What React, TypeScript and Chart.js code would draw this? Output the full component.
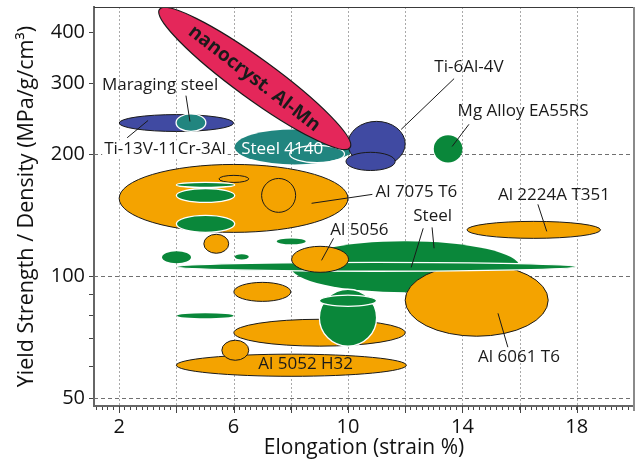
import React, { useEffect, useRef } from 'react';
import { Chart, registerables } from 'chart.js';
Chart.register(...registerables);

const FONT = "'Open Sans', 'DejaVu Sans', sans-serif";

// ---- axes ----
const X_MIN = 1.12;
const X_MAX = 20;
const Y_MIN = 47.8;
const Y_MAX = 463;
const xTickLabels = [2, 6, 10, 14, 18];
const xGridValues = [2, 4, 6, 8, 10, 12, 14, 16, 18];
const yTickLabels = [50, 100, 200, 300, 400];
const yMinorTicks = [60, 70, 80, 90];
const yGridValues = [50, 100, 200];

// ---- ellipses (draw order) : elongation range (%) and strength/density range ----
const ellipseKind = [
  'al', 'alLine', 'alLine', 'steel', 'steel', 'steel',
  'ti', 'maraging', 's4140', 's4140Line', 'ti', 'ti', 'almn', 'mg', 'al', 'al',
  'steelSoft', 'steelSoft', 'steelSoft', 'steelSoft', 'steelSoft',
  'al', 'steel', 'al', 'al', 'al', 'steel', 'steel', 'al', 'al',
];
const elongLow = [
  2.0, 5.49, 6.98, 4.0, 4.0, 4.0,
  2.0, 3.99, 6.04, 7.96, 10.0, 9.93, 3.41, 13.0, 14.16, 4.96,
  3.5, 6.04, 7.51, 4.02, 8.0,
  12.0, 4.02, 8.03, 6.01, 6.01, 9.0, 9.0, 4.0, 5.59,
];
const elongHigh = [
  10.0, 6.53, 8.17, 6.04, 6.04, 6.04,
  6.0, 5.03, 10.23, 9.88, 12.0, 11.65, 10.07, 14.0, 18.83, 5.83,
  4.51, 6.53, 8.52, 6.0, 16.0,
  17.0, 17.96, 10.02, 8.0, 12.0, 11.0, 11.0, 12.04, 6.53,
];
const strengthLow = [
  128.4, 170.6, 143.9, 165.9, 152.3, 128.4,
  228, 228, 189, 191, 187, 182.6, 457, 191, 124.1, 114,
  107.7, 110.1, 120, 78.8, 91.3,
  71.1, 102.9, 102.3, 86.7, 67.2, 67.2, 84.3, 56.6, 62.0,
];
const strengthHigh = [
  189, 177.6, 174.5, 170.6, 164.8, 141.5,
  251, 252, 230.7, 210.7, 241.5, 202.5, 208, 223, 136.7, 127,
  115.3, 113.3, 124, 81.0, 122,
  107.1, 108.3, 118.6, 96.6, 78.3, 92.9, 89.8, 64.2, 69.5,
];
// the nanocryst. Al-Mn ellipse is tilted: its low/high pairs are the ends of its long axis
const tiltedWidthRatio = 0.17;

// ---- labels ----
const labelText = [
  'Maraging steel', 'Ti-13V-11Cr-3Al', 'Steel 4140', 'nanocryst. Al-Mn', 'Ti-6Al-4V',
  'Mg Alloy EA55RS', 'Al 7075 T6', 'Al 2224A T351', 'Steel', 'Al 5056', 'Al 6061 T6', 'Al 5052 H32',
];
const labelKind = ['plain', 'boxed', 'inverse', 'tilted', 'plain', 'plain', 'plain', 'plain', 'plain', 'plain', 'plain', 'plain'];
const labelElong = [3.43, 3.60, 7.70, 6.72, 14.23, 16.12, 12.39, 17.20, 12.96, 10.40, 15.98, 8.52];
const labelStrength = [296, 206, 206.5, 308, 328, 256.6, 161, 158.5, 140.6, 129.9, 63.1, 60.6];

// ---- leader lines ----
const leaderX1 = [4.335, 2.279, 13.71, 14.23, 8.727, 16.64, 12.63, 12.94, 9.494, 15.245];
const leaderY1 = [279.6, 220, 308, 237.5, 151.5, 150.6, 131.4, 132.1, 124.1, 81.0];
const leaderX2 = [4.475, 3.01, 11.86, 13.64, 10.853, 16.95, 12.21, 13.01, 9.076, 15.59];
const leaderY2 = [241.3, 242.7, 230.7, 209.3, 159.4, 129.1, 105.2, 117.3, 109.5, 66.8];

const xMinorTickValues: number[] = [];
for (let i = 6; i <= 100; i++) xMinorTickValues.push(Math.round(i * 2) / 10);

const STYLE: Record<string, { fill?: string; stroke?: string; lw?: number }> = {
  al: { fill: '#F4A300', stroke: '#1a1a1a', lw: 1 },
  alLine: { stroke: '#1a1a1a', lw: 1 },
  steel: { fill: '#0A873A', stroke: '#ffffff', lw: 1.3 },
  steelSoft: { fill: '#0A873A' },
  ti: { fill: '#404AA2', stroke: '#1a1a1a', lw: 1 },
  maraging: { fill: '#21857F', stroke: '#ffffff', lw: 1.3 },
  s4140: { fill: '#21857F' },
  s4140Line: { stroke: '#ffffff', lw: 1.2 },
  mg: { fill: '#0A873A' },
  almn: { fill: '#E4275A', stroke: '#1a1a1a', lw: 1.2 },
};

const LABEL_FONT = `17px ${FONT}`;

const ellipsePlugin = {
  id: 'alloyEllipses',
  beforeDatasetsDraw(chart: any) {
    const { ctx, chartArea: a, scales } = chart;
    const x = scales.x, y = scales.y;
    ctx.save();
    ctx.lineWidth = 1;
    ctx.strokeStyle = '#a9a9a9';
    ctx.setLineDash([2, 2]);
    xGridValues.forEach((v) => {
      const px = Math.round(x.getPixelForValue(v)) + 0.5;
      ctx.beginPath(); ctx.moveTo(px, a.top); ctx.lineTo(px, a.bottom); ctx.stroke();
    });
    ctx.strokeStyle = '#707070';
    ctx.setLineDash([4, 3]);
    yGridValues.forEach((v) => {
      const py = Math.round(y.getPixelForValue(v)) + 0.5;
      ctx.beginPath(); ctx.moveTo(a.left, py); ctx.lineTo(a.right, py); ctx.stroke();
    });
    ctx.restore();
    // white backing behind boxed labels (hides grid lines only)
    ctx.save();
    ctx.font = LABEL_FONT;
    for (let i = 0; i < labelText.length; i++) {
      if (labelKind[i] !== 'boxed') continue;
      const px = x.getPixelForValue(labelElong[i]);
      const py = y.getPixelForValue(labelStrength[i]);
      const w = ctx.measureText(labelText[i]).width;
      ctx.fillStyle = '#ffffff';
      ctx.fillRect(px - w / 2 - 2, py - 9, w + 4, 18);
    }
    ctx.restore();
  },
  afterDatasetsDraw(chart: any) {
    const { ctx, chartArea: a, scales } = chart;
    const x = scales.x, y = scales.y;
    ctx.save();
    ctx.beginPath();
    ctx.rect(a.left, a.top, a.right - a.left, a.bottom - a.top);
    ctx.clip();
    for (let i = 0; i < ellipseKind.length; i++) {
      const kind = ellipseKind[i];
      const st = STYLE[kind];
      const x1 = x.getPixelForValue(elongLow[i]);
      const x2 = x.getPixelForValue(elongHigh[i]);
      const y1 = y.getPixelForValue(strengthLow[i]);
      const y2 = y.getPixelForValue(strengthHigh[i]);
      ctx.beginPath();
      if (kind === 'almn') {
        const cx = (x1 + x2) / 2, cy = (y1 + y2) / 2;
        const len = Math.hypot(x2 - x1, y2 - y1) / 2;
        const rot = Math.atan2(y2 - y1, x2 - x1);
        ctx.ellipse(cx, cy, len, len * tiltedWidthRatio, rot, 0, Math.PI * 2);
      } else {
        ctx.ellipse((x1 + x2) / 2, (y1 + y2) / 2, Math.abs(x2 - x1) / 2, Math.abs(y2 - y1) / 2, 0, 0, Math.PI * 2);
      }
      if (st.fill) { ctx.fillStyle = st.fill; ctx.fill(); }
      if (st.stroke) { ctx.strokeStyle = st.stroke; ctx.lineWidth = st.lw || 1; ctx.stroke(); }
    }
    ctx.restore();

    // leader lines
    ctx.save();
    ctx.strokeStyle = '#1a1a1a';
    ctx.lineWidth = 1;
    for (let i = 0; i < leaderX1.length; i++) {
      ctx.beginPath();
      ctx.moveTo(x.getPixelForValue(leaderX1[i]), y.getPixelForValue(leaderY1[i]));
      ctx.lineTo(x.getPixelForValue(leaderX2[i]), y.getPixelForValue(leaderY2[i]));
      ctx.stroke();
    }
    ctx.restore();

    // labels
    for (let i = 0; i < labelText.length; i++) {
      const kind = labelKind[i];
      const px = x.getPixelForValue(labelElong[i]);
      const py = y.getPixelForValue(labelStrength[i]);
      ctx.save();
      ctx.textAlign = 'center';
      ctx.textBaseline = 'middle';
      if (kind === 'tilted') {
        const i0 = ellipseKind.indexOf('almn');
        const rot = Math.atan2(
          y.getPixelForValue(strengthHigh[i0]) - y.getPixelForValue(strengthLow[i0]),
          x.getPixelForValue(elongHigh[i0]) - x.getPixelForValue(elongLow[i0]));
        ctx.translate(px, py);
        ctx.rotate(rot + 0.03);
        ctx.font = `bold 19px ${FONT}`;
        ctx.fillStyle = '#1a1a1a';
        ctx.fillText(labelText[i], 0, 0);
      } else {
        ctx.font = LABEL_FONT;
        ctx.fillStyle = kind === 'inverse' ? '#ffffff' : '#1a1a1a';
        ctx.fillText(labelText[i], px, py);
      }
      ctx.restore();
    }

    // frame (top and right) and longer major x ticks
    ctx.save();
    ctx.strokeStyle = '#3a3a3a';
    ctx.lineWidth = 1;
    ctx.beginPath(); ctx.moveTo(a.left, a.top + 0.5); ctx.lineTo(a.right, a.top + 0.5); ctx.stroke();
    ctx.strokeStyle = '#8a8a8a';
    ctx.lineWidth = 2;
    ctx.beginPath(); ctx.moveTo(a.right, a.top); ctx.lineTo(a.right, a.bottom + 5); ctx.stroke();
    ctx.strokeStyle = '#444';
    ctx.lineWidth = 1;
    xGridValues.forEach((v) => {
      const p = Math.round(x.getPixelForValue(v)) + 0.5;
      ctx.beginPath(); ctx.moveTo(p, a.bottom); ctx.lineTo(p, a.bottom + 7); ctx.stroke();
    });
    ctx.restore();
  },
};

export default function App() {
  const ref = useRef<HTMLCanvasElement>(null);
  useEffect(() => {
    const centers = ellipseKind.map((_, i) => ({
      x: (elongLow[i] + elongHigh[i]) / 2,
      y: Math.sqrt(strengthLow[i] * strengthHigh[i]),
    }));
    const chart = new Chart(ref.current as HTMLCanvasElement, {
      type: 'scatter',
      data: { datasets: [{ data: centers, pointRadius: 0, pointHoverRadius: 0, showLine: false }] },
      options: {
        animation: false,
        responsive: false,
        devicePixelRatio: 1,
        events: [],
        layout: { padding: { top: 7, right: 5, left: 0, bottom: 0 } },
        plugins: { legend: { display: false }, tooltip: { enabled: false }, title: { display: false } },
        scales: {
          x: {
            type: 'linear',
            min: X_MIN,
            max: X_MAX,
            afterBuildTicks: (s: any) => { s.ticks = xMinorTickValues.map((v) => ({ value: v })); },
            afterFit: (s: any) => { s.height = 56; s.paddingLeft = 0; s.paddingRight = 0; },
            ticks: {
              autoSkip: false,
              maxRotation: 0,
              minRotation: 0,
              padding: 5,
              color: '#111',
              font: { family: FONT, size: 20 },
              callback: (v: any) => {
                const r = Math.round(Number(v) * 10) / 10;
                return xTickLabels.includes(r) ? String(r) : '';
              },
            },
            grid: { drawOnChartArea: false, drawTicks: true, tickLength: 4, tickColor: '#444', tickWidth: 1 },
            border: { display: true, color: '#666', width: 2 },
            title: {
              display: true,
              text: 'Elongation (strain %)',
              color: '#111',
              font: { family: FONT, size: 21 },
              padding: { top: 0, bottom: 1 },
            },
          },
          y: {
            type: 'logarithmic',
            min: Y_MIN,
            max: Y_MAX,
            afterBuildTicks: (s: any) => {
              s.ticks = [...yTickLabels, ...yMinorTicks].sort((p, q) => p - q).map((v) => ({ value: v }));
            },
            afterFit: (s: any) => { s.width = 94; s.paddingTop = 0; s.paddingBottom = 0; },
            ticks: {
              autoSkip: false,
              padding: 4,
              color: '#111',
              font: { family: FONT, size: 20 },
              callback: (v: any) => (yTickLabels.includes(Number(v)) ? String(v) : ''),
            },
            grid: { drawOnChartArea: false, drawTicks: true, tickLength: 5, tickColor: '#444', tickWidth: 1 },
            border: { display: true, color: '#666', width: 2 },
            title: {
              display: true,
              text: 'Yield Strength / Density (MPa/g/cm³)',
              color: '#111',
              font: { family: FONT, size: 21.5 },
              padding: { top: 14, bottom: 0 },
            },
          },
        },
      },
      plugins: [ellipsePlugin],
    } as any);
    return () => chart.destroy();
  }, []);
  return (
    <div style={{ position: 'absolute', left: 0, top: 0, width: 639, height: 462, background: '#ffffff' }}>
      <canvas ref={ref} width={639} height={462} style={{ display: 'block', width: 639, height: 462 }} />
    </div>
  );
}
